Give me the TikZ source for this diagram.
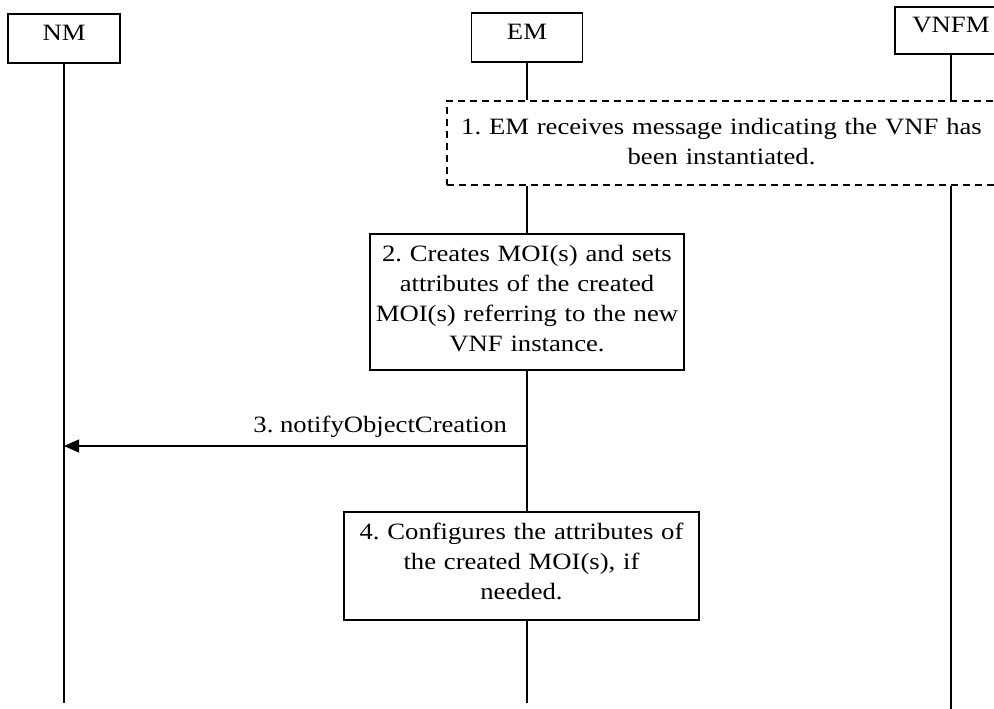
\documentclass[tikz,border=0pt]{standalone}
\usepackage{fontspec}
\setmainfont{Liberation Serif}[FakeStretch=1.14]
\usetikzlibrary{arrows.meta}
\frenchspacing
\begin{document}
\begin{tikzpicture}[x=1pt,y=-1pt,
  every node/.style={font=\fontsize{23.4}{30}\selectfont\frenchspacing},
  lbox/.style={draw,line width=1.3pt,inner sep=0pt,text height=16pt,text depth=11pt},
  stepbox/.style={draw,line width=1.3pt,inner sep=0pt,align=center,text height=16pt},
  dashbox/.style={stepbox,dash pattern=on 7pt off 5pt},
  life/.style={line width=1.3pt},
  msg/.style={line width=1.3pt,-{Triangle[length=15pt,width=13pt]}}]
\useasboundingbox (0,0) rectangle (994,709);
% lifeline heads
\node[lbox,minimum width=112pt,minimum height=49pt] (nm) at (64,38.5) {NM};
\node[lbox,minimum width=111pt,minimum height=49pt] (em) at (527,37.5) {EM};
\node[lbox,minimum width=112pt,minimum height=47pt] (vnfm) at (951,30.5) {VNFM};
% steps
\node[dashbox,minimum width=549pt,minimum height=84pt,text width=540pt,text depth=32pt] (s1) at (721.5,143)
  {1. EM receives message indicating the VNF has\\been instantiated.};
\node[stepbox,minimum width=314pt,minimum height=136pt,text width=310pt,text depth=98pt] (s2) at (527,302)
  {2. Creates MOI(s) and sets\\attributes of the created\\MOI(s) referring to the new\\VNF instance.};
\node[stepbox,minimum width=355pt,minimum height=108pt,text width=345pt,text depth=70pt] (s4) at (521.5,566)
  {4. Configures the attributes of\\the created MOI(s), if\\needed.};
% end points
\coordinate (nmEnd) at (64,703);
\coordinate (emEnd) at (527,703);
\coordinate (vnfmEnd) at (951,712);
% lifelines
\draw[life] (nm.south) -- (nmEnd);
\draw[life] (em.south) -- (em.south |- s1.north);
\draw[life] (em.south |- s1.south) -- (s2.north);
\draw[life] (s2.south) -- (em.south |- s4.north);
\draw[life] (em.south |- s4.south) -- (emEnd);
\draw[life] (vnfm.south) -- (vnfm.south |- s1.north);
\draw[life] (vnfm.south |- s1.south) -- (vnfmEnd);
% message 3
\coordinate (m3s) at (527,446);
\coordinate (m3e) at (64,446);
\draw[msg] (m3s) -- (m3e);
\node[anchor=base east,inner sep=0pt] (l3) at (507,432) {3. notifyObjectCreation};
\end{tikzpicture}
\end{document}
